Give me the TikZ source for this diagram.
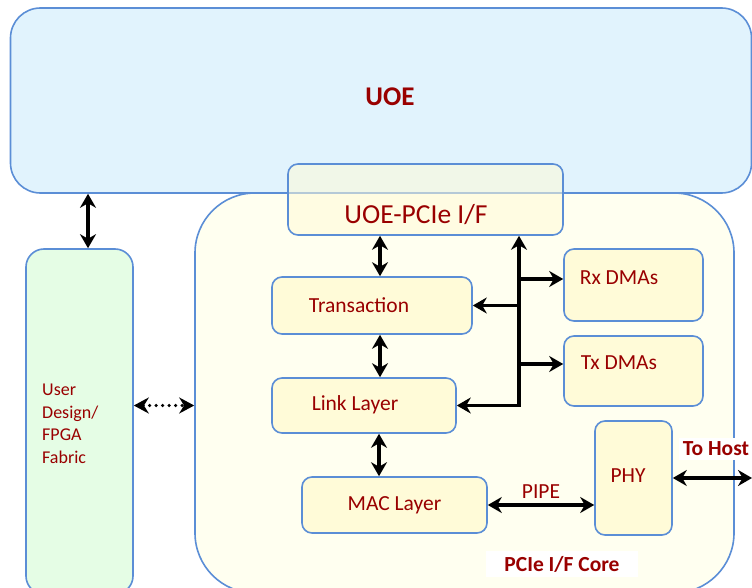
\documentclass[tikz,border=0pt]{standalone}
\usepackage{fontspec}
\setmainfont{Carlito}
\usetikzlibrary{arrows.meta,positioning}
\definecolor{edgeblue}{HTML}{5B8ED6}
\definecolor{txtred}{HTML}{990000}
\definecolor{uoefill}{HTML}{E1F3FD}
\definecolor{userfill}{HTML}{E5FDE5}
\definecolor{corefill}{HTML}{FFFFF0}
\definecolor{blkfill}{HTML}{FFFBD8}
\begin{document}
\begin{tikzpicture}
[x=1pt,y=-1pt,
 every node/.append style={text=txtred,font=\fontsize{21.5}{25}\selectfont},
 outline/.style={draw=edgeblue,line width=1.6pt,inner sep=0pt},
 blk/.style={outline,rounded corners=10pt,fill=blkfill},
 link/.style={line width=3.2pt,{Stealth[length=14pt,width=16pt]}-{Stealth[length=14pt,width=16pt]}},
 tolink/.style={line width=3.2pt,-{Stealth[length=14pt,width=16pt]}},
 dotlink/.style={line width=3.6pt,line cap=round,dash pattern=on 0pt off 6.5pt,
                 {Stealth[length=15pt,width=16pt]}-{Stealth[length=15pt,width=16pt]}},
 tag/.style={fill=white,font=\bfseries\fontsize{21.5}{25}\selectfont}]
\useasboundingbox (0,0) rectangle (752,588);
% outer blocks
\node[outline,rounded corners=30pt,fill=uoefill,minimum width=741pt,minimum height=185pt]
  (uoe) at (381,100.5) {};
\node[outline,rounded corners=60pt,fill=corefill,minimum width=539pt,minimum height=400pt]
  (core) at (464.5,393) {};
\node[outline,rounded corners=18pt,fill=userfill,minimum width=107pt,minimum height=345pt]
  (user) at (79.5,421.5) {};
\node[outline,rounded corners=10pt,fill=blkfill,fill opacity=0.55,minimum width=275pt,minimum height=71pt]
  (ifc) at (425.5,199.5) {};
% labels of outer blocks
\node[font=\bfseries\fontsize{27}{32}\selectfont] (uoetext) at (390,97) {UOE};
\node[font=\fontsize{27.5}{32}\selectfont] (ifctext) at (416,215) {UOE-PCIe I/F};
\node[anchor=west,align=left,inner sep=0pt,font=\fontsize{18}{22.5}\selectfont]
  (usertext) at (42,424) {User\\Design/\\FPGA\\Fabric};
% inner blocks
\node[blk,minimum width=200pt,minimum height=57pt] (trans) at (372,305.5) {};
\node[blk,minimum width=184pt,minimum height=55pt] (lnk) at (364,405.5) {};
\node[blk,minimum width=185pt,minimum height=56pt] (mac) at (394.5,505) {MAC Layer};
\node[blk,minimum width=77pt,minimum height=114pt] (phy) at (633.5,478) {};
\node[blk,minimum width=139pt,minimum height=72pt] (rx) at (633.5,285) {};
\node[blk,minimum width=139pt,minimum height=70pt] (tx) at (633.5,371) {};
\node (transtext) at (359,305) {Transaction};
\node (lnktext) at (355,405) {Link Layer};
\node (phytext) at (628,476) {PHY};
\node (rxtext) at (619,278) {Rx DMAs};
\node (txtext) at (619,363) {Tx DMAs};
\coordinate (bus) at (519,0);
\coordinate (host) at (752,478);
% connectors
\draw[link] ([xshift=8.5pt]user.north) -- ([xshift=8.5pt]user.north |- uoe.south);
\draw[dotlink] (user.east |- lnk.west) -- (core.west |- lnk.west);
\draw[link] ([xshift=8pt]trans.north) -- ([xshift=8pt]trans.north |- ifc.south);
\draw[link] ([xshift=8pt]trans.south) -- ([xshift=8pt]trans.south |- lnk.north);
\draw[link] ([xshift=15pt]lnk.south) -- ([xshift=15pt]lnk.south |- mac.north);
\draw[link] (mac.east) -- (mac.east -| phy.west)
  node[midway,above=2pt] (pipe) {PIPE};
\draw[link] (phy.east) -- (host);
\draw[link,line join=miter] (lnk.east) -- (bus |- lnk.east) -- (bus |- ifc.south);
\draw[tolink] (bus |- trans.east) -- (trans.east);
\draw[tolink] ([yshift=6pt]bus |- rx.west) -- ([yshift=6pt]rx.west);
\draw[tolink] ([yshift=7pt]bus |- tx.west) -- ([yshift=7pt]tx.west);
% tags
\node[tag,inner sep=4pt] (hosttag) at (716,449) {To Host};
\node[tag,inner xsep=18pt,inner ysep=5pt] (coretag) at (562,564) {PCIe I/F Core};
\end{tikzpicture}
\end{document}
